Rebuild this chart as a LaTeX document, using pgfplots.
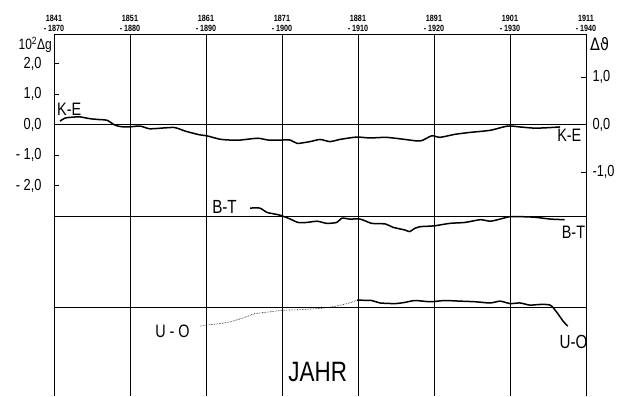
\documentclass[border=0pt]{standalone}
\usepackage{fontspec}
\setmainfont{Liberation Sans}[FakeStretch=0.8]
\newfontfamily\dvfont{DejaVu Sans}[FakeStretch=0.85]
\usepackage{pgfplots}
\pgfplotsset{compat=1.18}

\begin{document}
\begin{tikzpicture}
\begin{axis}[
  name=main,
  scale only axis,
  width=532pt, height=362pt,
  xmin=0, xmax=7,
  ymin=-8.90, ymax=2.967,
  axis x line*=top,
  axis line style={black, line width=0.9pt},
  xtick={0,1,2,3,4,5,6,7},
  xticklabels={{1841\\- 1870},{1851\\- 1880},{1861\\- 1890},{1871\\- 1900},{1881\\- 1910},{1891\\- 1920},{1901\\- 1930},{1911\\- 1940}},
  xticklabel style={font=\fontsize{9}{9.5}\selectfont\bfseries, align=center, inner sep=0.5pt, yshift=2pt},
  x tick style={draw=none},
  xmajorgrids,
  major grid style={black, line width=0.7pt},
  ytick={-2,-1,0,1,2},
  yticklabels={{- 2,0},{- 1,0},{0,0},{1,0},{2,0}},
  yticklabel style={font=\fontsize{16}{16}\selectfont, xshift=-9pt},
  ytick pos=left,
  y tick style={black, line width=0.8pt},
  major tick length=5pt,
  clip=false,
]
% baselines
\draw[black, line width=0.7pt] (axis cs:0,0) -- (axis cs:7,0);
\draw[black, line width=0.7pt] (axis cs:0,-3) -- (axis cs:7,-3);
\draw[black, line width=0.7pt] (axis cs:0,-6) -- (axis cs:7,-6);

% K-E
\addplot[black, line width=1.5pt, line join=round, smooth, tension=0.4] coordinates {
(0.079,0.11) (0.145,0.21) (0.237,0.24) (0.342,0.25) (0.474,0.19) (0.605,0.16)
(0.697,0.14) (0.803,-0.02) (0.882,-0.07) (0.987,-0.08) (1.13,-0.05) (1.26,-0.14)
(1.46,-0.11) (1.59,-0.10) (1.72,-0.21) (1.79,-0.26) (1.92,-0.34) (2.01,-0.37)
(2.18,-0.48) (2.32,-0.51) (2.45,-0.51) (2.68,-0.45) (2.82,-0.51) (2.97,-0.51)
(3.11,-0.51) (3.20,-0.62) (3.37,-0.56) (3.50,-0.49) (3.63,-0.56) (3.76,-0.49)
(3.89,-0.44) (3.99,-0.41) (4.16,-0.44) (4.36,-0.42) (4.49,-0.45) (4.62,-0.49)
(4.82,-0.54) (4.97,-0.37) (5.08,-0.42) (5.28,-0.32) (5.47,-0.26) (5.74,-0.19)
(5.97,-0.05) (6.13,-0.08) (6.33,-0.12) (6.53,-0.10) (6.66,-0.08)
};

% B-T
\addplot[black, line width=1.5pt, line join=round, smooth, tension=0.4] coordinates {
(2.58,-2.74) (2.71,-2.74) (2.80,-2.88) (2.97,-2.97) (3.11,-3.10) (3.21,-3.21)
(3.33,-3.21) (3.46,-3.17) (3.59,-3.24) (3.72,-3.21) (3.79,-3.07) (3.89,-3.10)
(4.03,-3.10) (4.18,-3.24) (4.36,-3.26) (4.46,-3.37) (4.62,-3.46) (4.68,-3.51)
(4.75,-3.40) (4.82,-3.35) (4.88,-3.34) (5.01,-3.32) (5.21,-3.24) (5.41,-3.21)
(5.61,-3.12) (5.74,-3.17) (5.87,-3.10) (6.00,-3.02) (6.13,-3.02) (6.33,-3.04)
(6.53,-3.10) (6.72,-3.12)
};

% U-O dotted part
\addplot[black, line width=0.6pt, densely dotted] coordinates {
(1.92,-6.61) (2.05,-6.56) (2.18,-6.53) (2.32,-6.47) (2.49,-6.34) (2.64,-6.20)
(2.84,-6.14) (3.00,-6.09) (3.24,-6.07) (3.50,-6.03) (3.70,-5.96) (3.89,-5.85)
(3.99,-5.76)
};
% U-O solid part
\addplot[black, line width=1.5pt, line join=round, smooth, tension=0.4] coordinates {
(3.99,-5.76) (4.18,-5.77) (4.29,-5.85) (4.49,-5.87) (4.62,-5.83) (4.75,-5.77)
(4.95,-5.81) (5.14,-5.77) (5.34,-5.79) (5.54,-5.81) (5.74,-5.85) (5.87,-5.79)
(6.00,-5.87) (6.13,-5.85) (6.26,-5.92) (6.39,-5.90) (6.53,-5.92) (6.62,-6.17)
(6.70,-6.45) (6.76,-6.61)
};

% labels
\node[font=\fontsize{18}{18}\selectfont, anchor=base west, inner sep=0pt] at (axis cs:0.04,0.28) {K-E};
\node[font=\fontsize{18}{18}\selectfont, anchor=base west, inner sep=0pt] at (axis cs:6.62,-0.55) {K-E};
\node[font=\fontsize{19}{19}\selectfont, anchor=base west, inner sep=0pt] at (axis cs:2.08,-2.91) {B-T};
\node[font=\fontsize{18}{18}\selectfont, anchor=base west, inner sep=0pt] at (axis cs:6.68,-3.75) {B-T};
\node[font=\fontsize{18}{18}\selectfont, anchor=base west, inner sep=0pt] at (axis cs:1.33,-6.97) {U - O};
\node[font=\fontsize{19}{19}\selectfont, anchor=base west, inner sep=0pt] at (axis cs:6.65,-7.35) {U-O};
\node[font=\fontsize{28}{28}\selectfont, anchor=base, inner sep=0pt] at (axis cs:3.47,-8.44) {JAHR};
\node[font=\fontsize{15}{15}\selectfont, anchor=north east, inner sep=0pt] at ([xshift=-2pt,yshift=-3pt]rel axis cs:0,1) {10\textsuperscript{2}Δg};
\node[font=\fontsize{17}{17}\selectfont\dvfont, anchor=north west, inner sep=0pt] at ([xshift=4pt,yshift=-3pt]rel axis cs:1,1) {Δϑ};
\end{axis}
\begin{axis}[
  scale only axis,
  width=532pt, height=362pt,
  xmin=0, xmax=7,
  ymin=-5.716, ymax=1.906,
  axis x line=none,
  axis y line*=right,
  axis line style={black, line width=0.9pt},
  ytick={-1,0,1},
  yticklabels={{-1,0},{0,0},{1,0}},
  yticklabel style={font=\fontsize{16}{16}\selectfont, xshift=3pt},
  y tick style={black, line width=0.8pt},
  major tick length=5pt,
]
\end{axis}
\pgfresetboundingbox
\path ([xshift=-54pt]main.south west) rectangle ([xshift=35pt,yshift=34pt]main.north east);
\end{tikzpicture}
\end{document}
